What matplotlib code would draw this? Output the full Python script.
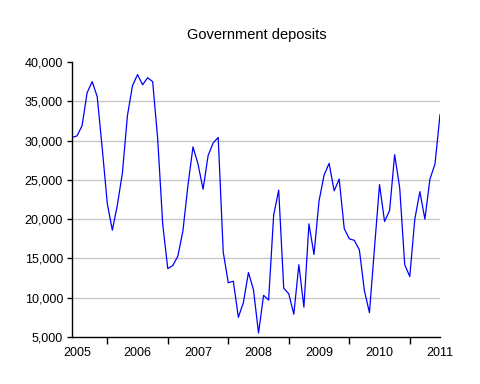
import numpy as np
import matplotlib
matplotlib.use('Agg')
import matplotlib.pyplot as plt
from matplotlib.ticker import FuncFormatter, FixedLocator

plt.rcParams['font.family'] = ['Liberation Sans', 'DejaVu Sans']

# monthly series, Jun 2005 .. Jul 2011
start_year = 2005
start_month = 6
deposits = [
    # 2005 (Jun-Dec)
    30400, 30600, 31900, 36100, 37500, 35600, 29000,
    # 2006
    22000, 18600, 21800, 25900, 33200, 37000, 38400, 37100, 38000, 37500, 30200, 19300,
    # 2007
    13700, 14100, 15300, 18500, 24300, 29200, 27000, 23800, 28100, 29700, 30400, 15800,
    # 2008
    11900, 12100, 7500, 9400, 13200, 11000, 5500, 10300, 9700, 20500, 23700, 11200,
    # 2009
    10500, 7900, 14200, 8800, 19400, 15500, 22300, 25600, 27100, 23600, 25100, 18800,
    # 2010
    17500, 17300, 16100, 10900, 8100, 16300, 24400, 19700, 21100, 28200, 24000, 14200,
    # 2011 (Jan-Jul)
    12700, 20000, 23500, 20000, 25100, 27000, 33300,
]
years = [2005, 2006, 2007, 2008, 2009, 2010, 2011]
yticks = [5000, 10000, 15000, 20000, 25000, 30000, 35000, 40000]

t = start_year + (start_month - 1) / 12.0 + np.arange(len(deposits)) / 12.0

fig = plt.figure(figsize=(4.8, 3.84), dpi=100)
ax = fig.add_axes([0.15, 0.1224, 0.7667, 0.7161])

for v in yticks[1:-1]:
    ax.axhline(v, color='#c8c8c8', lw=1.0, zorder=0)
ax.plot(t, deposits, color='#0000ff', lw=0.9, zorder=2)

ax.set_xlim(t[0], t[-1])
ax.set_ylim(yticks[0], yticks[-1])

# year boundaries get tick marks, labels sit in the middle of each year
ax.xaxis.set_major_locator(FixedLocator(years[1:]))
ax.xaxis.set_minor_locator(FixedLocator([y + 0.5 for y in years]))
ax.xaxis.set_major_formatter(FuncFormatter(lambda x, p: ''))
ax.xaxis.set_minor_formatter(FuncFormatter(lambda x, p: '%d' % int(x)))
ax.tick_params(axis='x', which='major', direction='out', length=5, width=1, color='black')
ax.tick_params(axis='x', which='minor', length=0, pad=7, labelsize=9)

ax.set_yticks(yticks)
ax.yaxis.set_major_formatter(FuncFormatter(lambda v, p: '{:,.0f}'.format(v)))
ax.tick_params(axis='y', direction='out', length=3.5, width=1, pad=3, labelsize=9)

for s in ['top', 'right']:
    ax.spines[s].set_visible(False)
for s in ['left', 'bottom']:
    ax.spines[s].set_linewidth(1.0)

fig.text(0.535, 0.909, 'Government deposits', ha='center', va='center', fontsize=10.5)

fig.savefig('out.png', dpi=100)
